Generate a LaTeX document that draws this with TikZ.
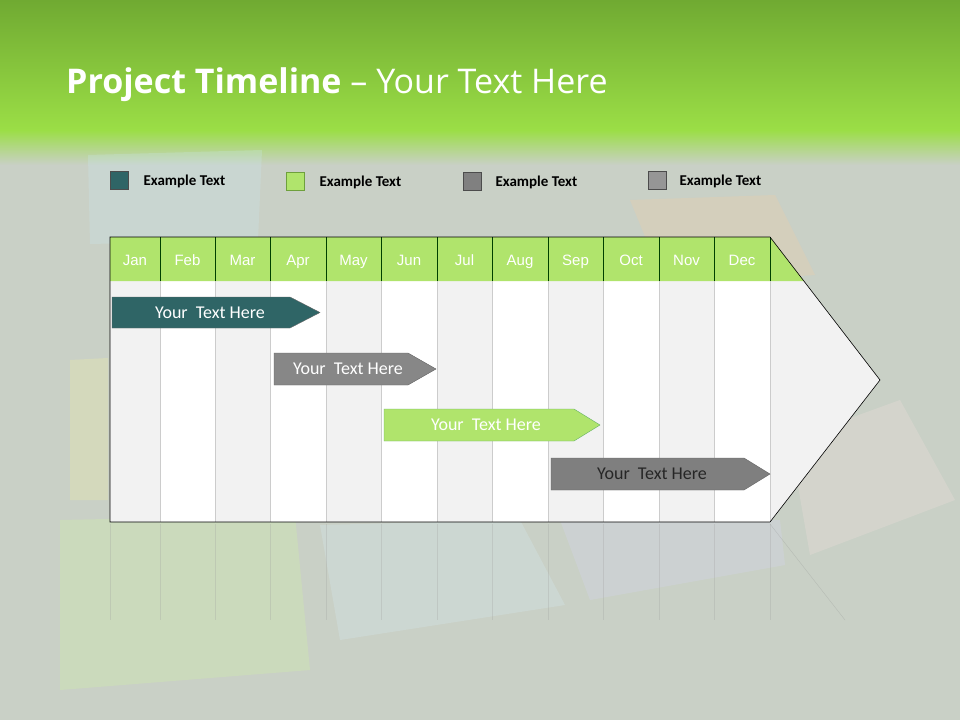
\documentclass[tikz,border=0pt]{standalone}
\usepackage{fontspec}
\setmainfont{Open Sans}
\newfontfamily\arial{Liberation Sans}
\newfontfamily\carl{Carlito}
\begin{document}
\begin{tikzpicture}[x=1pt,y=-1pt,
  legsq/.style={draw=black!70,line width=0.8pt,minimum size=18pt,inner sep=0pt},
  legtx/.style={anchor=west,font=\carl\bfseries\fontsize{15}{17}\selectfont,text=black},
  mon/.style={font=\arial\fontsize{15}{17}\selectfont,text=white,anchor=base},
  bartx/.style={font=\carl\fontsize{18}{21}\selectfont}]
\useasboundingbox (0,0) rectangle (960,720);
\fill[color={rgb,255:red,201;green,208;blue,198}] (0,0) rectangle (960,720);
\shade[top color={rgb,255:red,112;green,170;blue,50},bottom color={rgb,255:red,155;green,222;blue,70}] (0,0) rectangle (960,130);
\shade[top color={rgb,255:red,155;green,222;blue,70},bottom color={rgb,255:red,201;green,208;blue,198}] (0,130) rectangle (960,165);
% faint tiles
\begin{scope}[opacity=0.22]
\fill[cyan!20] (88,155) -- (262,150) -- (258,240) -- (90,244) -- cycle;
\fill[orange!40] (630,200) -- (775,195) -- (815,275) -- (665,285) -- cycle;
\fill[red!10] (790,440) -- (900,400) -- (955,500) -- (810,555) -- cycle;
\fill[green!40!yellow!40] (60,520) -- (295,515) -- (310,670) -- (60,690) -- cycle;
\fill[cyan!15] (320,525) -- (520,520) -- (565,605) -- (340,640) -- cycle;
\fill[blue!15] (560,520) -- (780,520) -- (785,565) -- (590,600) -- cycle;
\fill[yellow!40] (70,360) -- (108,358) -- (108,500) -- (70,500) -- cycle;
\end{scope}
% title
\node[anchor=base west,text=white,inner sep=0pt,font=\fontsize{34}{40}\selectfont] (title) at (66,93) {\textbf{Project Timeline} – Your Text Here};
% legend
\node[legsq,fill={rgb,255:red,47;green,101;blue,102}] (l1) at (119,180) {};
\node[legtx] (t1) at (140,181) {Example Text};
\node[legsq,fill={rgb,255:red,176;green,228;blue,108},draw={rgb,255:red,110;green,160;blue,60}] (l2) at (295,181) {};
\node[legtx] (t2) at (316,182) {Example Text};
\node[legsq,fill={rgb,255:red,128;green,128;blue,128}] (l3) at (472,181) {};
\node[legtx] (t3) at (492,182) {Example Text};
\node[legsq,fill={rgb,255:red,150;green,150;blue,150}] (l4) at (657,180) {};
\node[legtx] (t4) at (676,181) {Example Text};
% chart body
\fill[color={rgb,255:red,242;green,242;blue,242}] (110,237) -- (770,237) -- (880,380) -- (770,522) -- (110,522) -- cycle;
\foreach \a/\b in {160/215,270/326,381/437,492/548,603/659,714/770}{
  \fill[white] (\a,281) rectangle (\b,522);
  \draw[black!20] (\a,281) -- (\a,522) (\b,281) -- (\b,522);
}
\fill[color={rgb,255:red,176;green,228;blue,108}] (110,237) -- (770,237) -- (804,281) -- (110,281) -- cycle;
\foreach \x in {160,215,270,326,381,437,492,548,603,659,714,770}{
  \draw[black!75!green,line width=0.8pt] (\x,237) -- (\x,281);
}
\draw[black,line width=0.6pt] (110,237) -- (770,237) -- (880,380) -- (770,522) -- (110,522) -- cycle;
\foreach \m [count=\i] in {Jan,Feb,Mar,Apr,May,Jun,Jul,Aug,Sep,Oct,Nov,Dec}{
  \pgfmathsetmacro{\xa}{{0,110,160,215,270,326,381,437,492,548,603,659,714,770}[\i]}
  \pgfmathsetmacro{\xb}{{0,110,160,215,270,326,381,437,492,548,603,659,714,770}[\i+1]}
  \node[mon] (m\i) at ({(\xa+\xb)/2},265) {\m};
}
% bars
\fill[color={rgb,255:red,47;green,101;blue,102}] (112,297) -- (290,297) -- (320,312.5) -- (290,328) -- (112,328) -- cycle;
\draw[black!60] (112,297) -- (290,297) -- (320,312.5) -- (290,328) -- (112,328) -- cycle;
\node[bartx,text=white] (b1) at (210,313) {Your~ Text Here};
\fill[color={rgb,255:red,135;green,135;blue,135}] (274,353) -- (408,353) -- (436,369) -- (408,385) -- (274,385) -- cycle;
\draw[black!60] (274,353) -- (408,353) -- (436,369) -- (408,385) -- (274,385) -- cycle;
\node[bartx,text=white] (b2) at (348,369) {Your~ Text Here};
\fill[color={rgb,255:red,176;green,228;blue,108}] (384,409) -- (574,409) -- (600,425) -- (574,441) -- (384,441) -- cycle;
\draw[green!50!black!60] (384,409) -- (574,409) -- (600,425) -- (574,441) -- (384,441) -- cycle;
\node[bartx,text=white] (b3) at (486,425) {Your~ Text Here};
\fill[color={rgb,255:red,127;green,127;blue,127}] (551,458) -- (744,458) -- (770,474) -- (744,490) -- (551,490) -- cycle;
\draw[black!60] (551,458) -- (744,458) -- (770,474) -- (744,490) -- (551,490) -- cycle;
\node[bartx,text=black!85] (b4) at (652,474) {Your~ Text Here};
% reflection
\begin{scope}[opacity=0.25]
\foreach \x in {110,160,215,270,326,381,437,492,548,603,659,714,770}{\draw[black!40] (\x,524) -- (\x,620);}
\draw[black!50] (770,524) -- (845,620);
\end{scope}
\end{tikzpicture}
\end{document}
